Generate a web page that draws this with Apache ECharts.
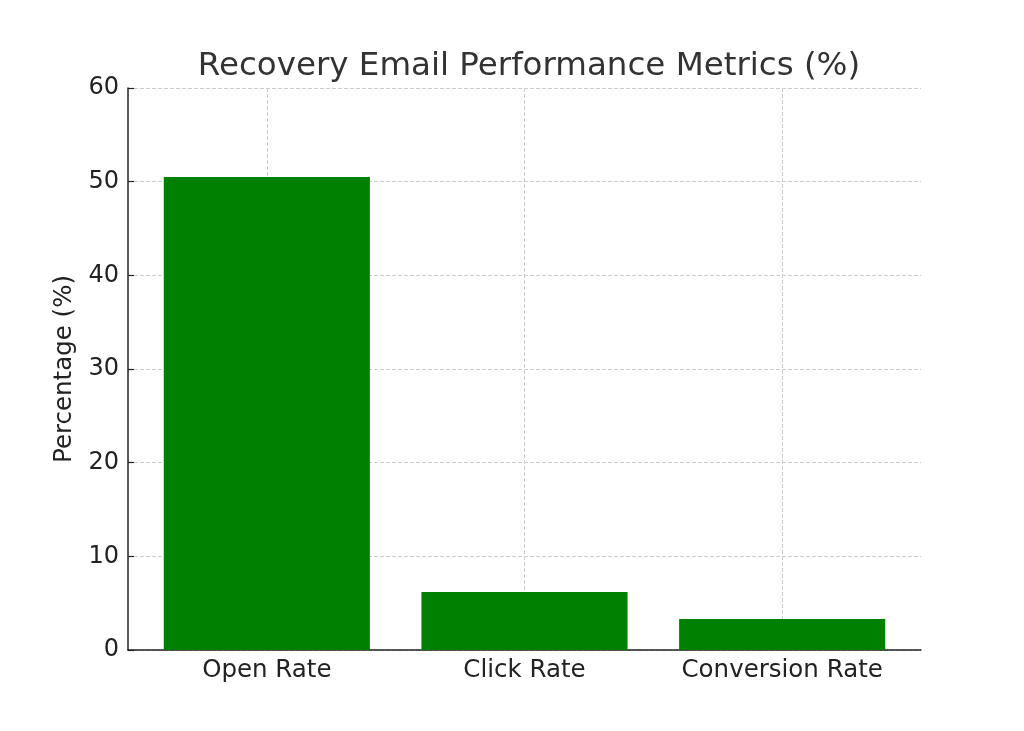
<!DOCTYPE html>
<html>
<head>
<meta charset="utf-8">
<script src="https://cdn.jsdelivr.net/npm/echarts@6/dist/echarts.min.js"></script>
<style>
  html, body { margin: 0; padding: 0; background: #fff; }
  #chart { width: 1024px; height: 731px; }
</style>
</head>
<body>
<div id="chart"></div>
<script>
var metrics = ['Open Rate', 'Click Rate', 'Conversion Rate'];
var percentages = [50.5, 6.2, 3.3];
var yTicks = { min: 0, max: 60, interval: 10 };

var font = 'DejaVu Sans';
var ink = '#222';
var gridDash = { color: '#ccc', type: 'dashed', width: 1 };

var chart = echarts.init(document.getElementById('chart'));
chart.setOption({
    animation: false,
    title: {
        text: 'Recovery Email Performance Metrics (%)',
        left: 524,
        textAlign: 'center',
        top: 45,
        textStyle: {
            fontFamily: font,
            fontSize: 32.5,
            fontWeight: 'normal',
            color: '#333'
        }
    },
    // grid 0: the frame (spines, y axis); grid 1: the bars with matplotlib-like x margins
    grid: [
        { left: 128, right: 103, top: 88, bottom: 81 },
        { left: 138, right: 113, top: 88, bottom: 81 }
    ],
    xAxis: [
        {
            gridIndex: 0,
            type: 'category',
            data: metrics,
            axisLine: { lineStyle: { color: ink, width: 1.5 } },
            axisTick: { show: false },
            axisLabel: { show: false },
            splitLine: { show: false }
        },
        {
            gridIndex: 1,
            type: 'category',
            data: metrics,
            axisLine: { show: false },
            axisTick: {
                show: true,
                interval: 0,
                alignWithLabel: true,
                inside: true,
                length: 6,
                lineStyle: { color: ink, width: 1.2 }
            },
            axisLabel: {
                interval: 0,
                fontFamily: font,
                fontSize: 24.5,
                color: ink,
                margin: 8
            },
            splitLine: {
                show: true,
                interval: 0,
                alignWithLabel: true,
                lineStyle: gridDash
            }
        }
    ],
    yAxis: [
        {
            gridIndex: 0,
            type: 'value',
            min: yTicks.min,
            max: yTicks.max,
            interval: yTicks.interval,
            name: 'Percentage (%)',
            nameLocation: 'middle',
            nameGap: 48,
            nameTextStyle: {
                fontFamily: font,
                fontSize: 24.5,
                color: ink
            },
            axisLine: { show: true, lineStyle: { color: ink, width: 1.5 } },
            axisTick: {
                show: true,
                inside: true,
                length: 6,
                lineStyle: { color: ink, width: 1.2 }
            },
            axisLabel: {
                fontFamily: font,
                fontSize: 24,
                color: ink,
                margin: 9
            },
            splitLine: { show: true, lineStyle: gridDash }
        },
        {
            gridIndex: 1,
            type: 'value',
            min: yTicks.min,
            max: yTicks.max,
            interval: yTicks.interval,
            show: false
        }
    ],
    series: [
        {
            type: 'bar',
            xAxisIndex: 1,
            yAxisIndex: 1,
            data: percentages,
            barWidth: '80%',
            itemStyle: { color: '#008000' },
            z: 1
        }
    ]
});
</script>
</body>
</html>
